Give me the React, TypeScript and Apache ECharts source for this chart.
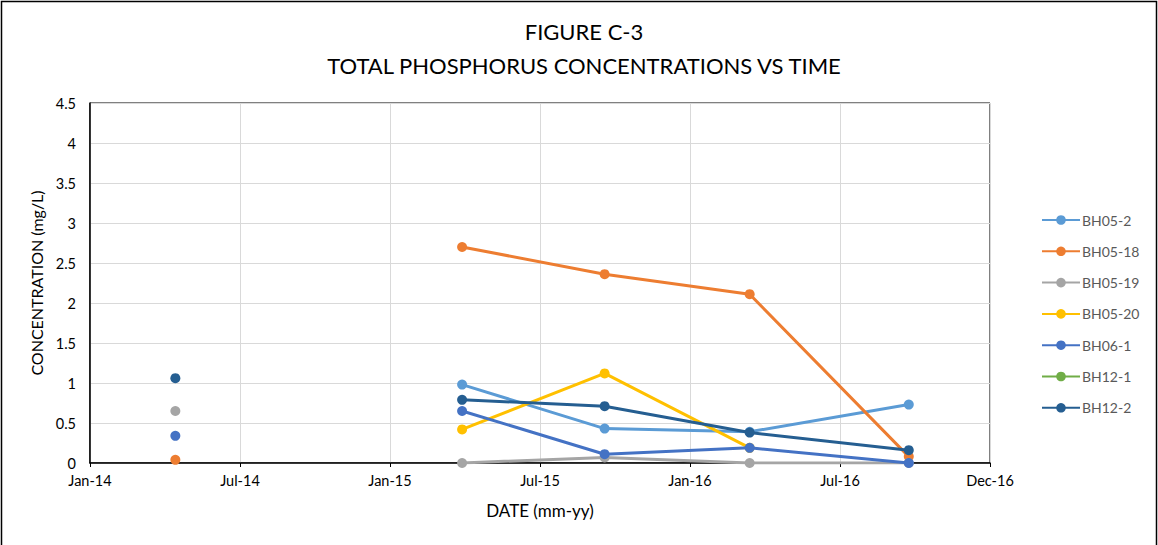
import React, { useEffect, useRef } from "react";
import * as echarts from "echarts";

// ---- data ----
const sampleDates = ["2014-04-21", "2015-04-02", "2015-09-21", "2016-03-14", "2016-09-22"];
const seriesNames = ["BH05-2", "BH05-18", "BH05-19", "BH05-20", "BH06-1", "BH12-1", "BH12-2"];
const bh05_2 = [null, 0.98, 0.43, 0.39, 0.73];
const bh05_18 = [0.04, 2.7, 2.36, 2.11, 0.08];
const bh05_19 = [0.65, 0.0, 0.07, 0.0, 0.0];
const bh05_20 = [null, 0.42, 1.12, 0.19, null];
const bh06_1 = [0.34, 0.65, 0.11, 0.19, 0.0];
const bh12_1 = [null, null, null, null, null];
const bh12_2 = [1.06, 0.79, 0.71, 0.38, 0.16];
const seriesValues = [bh05_2, bh05_18, bh05_19, bh05_20, bh06_1, bh12_1, bh12_2];
const seriesColors = ["#5B9BD5", "#ED7D31", "#A5A5A5", "#FFC000", "#4472C4", "#70AD47", "#255E91"];
const xTickLabels = ["Jan-14", "Jul-14", "Jan-15", "Jul-15", "Jan-16", "Jul-16", "Dec-16"];
const axisStartDate = "2014-01-08";
const xTickIntervalDays = 181;

const DAY = 86400000;
const toMs = (s: string) => {
  const [y, m, d] = s.split("-").map(Number);
  return Date.UTC(y, m - 1, d);
};
const toDays = (s: string) => Math.round((toMs(s) - toMs(axisStartDate)) / DAY);

const FONT = "Lato, 'Open Sans', sans-serif";

export default function App() {
  const ref = useRef<HTMLDivElement>(null);
  useEffect(() => {
    document.body.style.margin = "0";
    if (!ref.current) return;
    const chart = echarts.init(ref.current, undefined, { renderer: "svg" });
    const xs = sampleDates.map(toDays);
    const series = seriesNames.map((name, i) => {
      const vals = seriesValues[i];
      const data: any[] = [];
      vals.forEach((v, j) => {
        data.push([xs[j], v == null ? "-" : v]);
        // the first sampling round is not joined to the later rounds
        if (j === 0) data.push([(xs[0] + xs[1]) / 2, "-"]);
      });
      return {
        name,
        type: "line",
        data,
        symbol: "circle",
        symbolSize: 10,
        showSymbol: true,
        connectNulls: false,
        lineStyle: { width: 3, color: seriesColors[i] },
        itemStyle: { color: seriesColors[i] },
        z: 2 + i,
      };
    });
    chart.setOption({
      animation: false,
      textStyle: { fontFamily: FONT },
      title: {
        text: "FIGURE C-3\nTOTAL PHOSPHORUS CONCENTRATIONS VS TIME",
        left: 579,
        top: 9,
        textAlign: "center",
        textStyle: { fontFamily: FONT, fontSize: 22, fontWeight: "normal", color: "#000", lineHeight: 34 },
      },
      graphic: [
        {
          type: "rect",
          shape: { x: 1.5, y: 1.5, width: 1155, height: 560 },
          style: { fill: "none", stroke: "#000", lineWidth: 1.5 },
          silent: true,
        },
      ],
      legend: {
        orient: "vertical",
        left: 1036,
        top: 208,
        itemWidth: 38,
        itemHeight: 12,
        itemGap: 17.3,
        data: seriesNames,
        textStyle: { fontFamily: FONT, fontSize: 14, lineHeight: 12, color: "#595959", padding: [0, 0, 0, -3] },
      },
      grid: {
        left: 90,
        top: 103,
        width: 900,
        height: 360,
        show: true,
        borderColor: "#000",
        borderWidth: 1,
        containLabel: false,
      },
      xAxis: {
        type: "value",
        min: 0,
        max: xTickIntervalDays * (xTickLabels.length - 1),
        interval: xTickIntervalDays,
        name: "DATE (mm-yy)",
        nameLocation: "middle",
        nameGap: 39,
        nameTextStyle: { fontFamily: FONT, fontSize: 17, color: "#000" },
        axisLine: { show: true, lineStyle: { color: "#000", width: 1.5 } },
        axisTick: { show: true, length: 4, lineStyle: { color: "#000" } },
        axisLabel: {
          formatter: (v: number) => xTickLabels[Math.round(v / xTickIntervalDays)] ?? "",
          fontFamily: FONT,
          fontSize: 14.5,
          color: "#000",
          margin: 10,
        },
        splitLine: { show: true, lineStyle: { color: "#D9D9D9", width: 1 } },
      },
      yAxis: {
        type: "value",
        min: 0,
        max: 4.5,
        interval: 0.5,
        name: "CONCENTRATION (mg/L)",
        nameLocation: "middle",
        nameGap: 45,
        nameTextStyle: { fontFamily: FONT, fontSize: 16, color: "#000" },
        axisLine: { show: true, lineStyle: { color: "#000", width: 1.5 } },
        axisTick: { show: false },
        axisLabel: { fontFamily: FONT, fontSize: 14.5, color: "#000", margin: 14 },
        splitLine: { show: true, lineStyle: { color: "#D9D9D9", width: 1 } },
      },
      series,
    });
    return () => chart.dispose();
  }, []);
  return <div ref={ref} style={{ width: 1158, height: 545 }} />;
}
